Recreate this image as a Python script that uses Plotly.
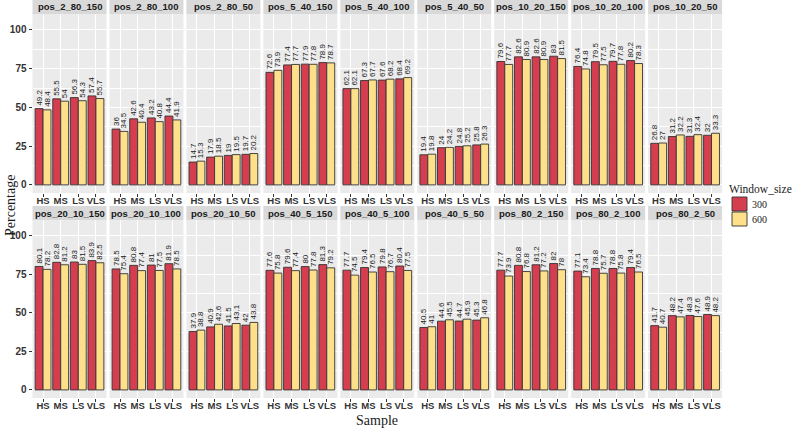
import plotly.graph_objects as go

samples = ["HS", "MS", "LS", "VLS"]
facets = ["pos_2_80_150", "pos_2_80_100", "pos_2_80_50",
          "pos_5_40_150", "pos_5_40_100", "pos_5_40_50",
          "pos_10_20_150", "pos_10_20_100", "pos_10_20_50",
          "pos_20_10_150", "pos_20_10_100", "pos_20_10_50",
          "pos_40_5_150", "pos_40_5_100", "pos_40_5_50",
          "pos_80_2_150", "pos_80_2_100", "pos_80_2_50"]
window_sizes = ["300", "600"]
values_300 = [
    [49.2, 55.5, 56.3, 57.4], [36, 42.6, 43.2, 44.4], [14.7, 17.9, 19, 19.7],
    [72.6, 77.4, 77.9, 78.9], [62.1, 67.3, 67.6, 68.4], [19.4, 24, 24.8, 25.8],
    [79.6, 82.6, 82.6, 83], [76.4, 79.5, 79.7, 80.2], [26.8, 31.2, 31.3, 32],
    [80.1, 82.8, 83, 83.9], [78.5, 80.8, 81, 81.9], [37.9, 40.9, 41.5, 42],
    [77.6, 79.6, 80, 81.3], [77.7, 79.4, 79.8, 80.4], [40.5, 44.6, 44.7, 45.3],
    [77.7, 80.8, 81.2, 82], [77.1, 78.8, 78.8, 79.4], [41.7, 48.2, 48.3, 48.9],
]
values_600 = [
    [48.4, 54, 54.3, 55.7], [34.5, 40.4, 40.8, 41.9], [15.3, 18.5, 19.5, 20.2],
    [73.9, 77.7, 77.8, 78.7], [62.1, 67.7, 68.2, 69.2], [19.8, 24.2, 25.2, 26.3],
    [77.7, 80.9, 80.9, 81.5], [74.8, 77.5, 77.8, 78.3], [27, 32.2, 32.4, 33.3],
    [78.2, 81.2, 81.5, 82.5], [75.4, 77.4, 77.5, 78.5], [38.8, 42.6, 43.1, 43.8],
    [75.8, 77.4, 77.8, 79.2], [74.5, 76.5, 76.7, 77.5], [41, 45.5, 45.9, 46.8],
    [73.9, 76.8, 77.2, 78], [73.4, 75.7, 75.8, 76.5], [40.7, 47.4, 47.6, 48.2],
]
y_ticks = [0, 25, 50, 75, 100]

colors = {"300": "#D53E4F", "600": "#FEE08B"}
W, H = 794, 428
SANS = "Liberation Sans, Arial, sans-serif"
SERIF = "Liberation Serif, Times New Roman, serif"

fig = go.Figure()
layout = {}
shapes = []
annotations = []

ncol = 9
x0_px, pitch_px, width_px = 32.5, 76.95, 74.0
rows_px = [(14, 193), (220, 398)]
strip_h = 14

def fmt(v):
    return ("%g" % v)

for i, name in enumerate(facets):
    r, c = divmod(i, ncol)
    k = i + 1
    xa = "x" if k == 1 else f"x{k}"
    ya = "y" if k == 1 else f"y{k}"
    left = x0_px + c * pitch_px
    right = left + width_px
    top, bot = rows_px[r]
    xd = [left / W, right / W]
    yd = [(H - bot) / H, (H - top) / H]
    for ws, vals in zip(window_sizes, [values_300[i], values_600[i]]):
        fig.add_trace(go.Bar(
            x=samples, y=vals, name=ws, legendgroup=ws, showlegend=False,
            xaxis=xa, yaxis=ya, offsetgroup=ws,
            marker=dict(color=colors[ws], line=dict(color="#333333", width=0.9)),
            text=[fmt(v) for v in vals], textposition="outside", textangle=-90,
            constraintext="none", cliponaxis=False,
            textfont=dict(family=SANS, size=8, color="#1a1a1a"),
            hoverinfo="x+y+name",
        ))
    layout["xaxis" if k == 1 else f"xaxis{k}"] = dict(
        domain=xd, anchor=ya, type="category", categoryorder="array",
        categoryarray=samples, range=[-0.6, 3.6], tickangle=0, automargin=False,
        showgrid=True, gridcolor="white", gridwidth=1.1,
        ticks="outside", ticklen=3, tickcolor="#333333", tickwidth=1,
        ticklabelstandoff=-4,
        showline=False, zeroline=False,
        tickfont=dict(family=SANS, size=9.5, color="#333333", weight="bold"),
    )
    layout["yaxis" if k == 1 else f"yaxis{k}"] = dict(
        domain=yd, anchor=xa, range=[-5.25, 110.25], automargin=False,
        tickvals=y_ticks, showticklabels=(c == 0),
        ticks="outside" if c == 0 else "", ticklen=3, tickcolor="#333333", tickwidth=1,
        showgrid=True, gridcolor="white", gridwidth=1.1, zeroline=False,
        minor=dict(dtick=12.5, tick0=0, showgrid=True, gridcolor="white", gridwidth=0.5, ticks=""),
        tickfont=dict(family=SANS, size=10, color="#333333", weight="bold"),
    )
    shapes.append(dict(type="rect", xref="paper", yref="paper",
                       x0=xd[0], x1=xd[1], y0=(H - top) / H, y1=(H - top + strip_h) / H,
                       fillcolor="#D9D9D9", line=dict(width=0), layer="below"))
    annotations.append(dict(text=name, xref="paper", yref="paper",
                            x=(xd[0] + xd[1]) / 2, y=(H - top + strip_h / 2) / H,
                            xanchor="center", yanchor="middle", showarrow=False,
                            font=dict(family=SANS, size=9.5, color="#1A1A1A", weight="bold")))

panels_left = x0_px / W
panels_right = (x0_px + 8 * pitch_px + width_px) / W
annotations.append(dict(text="Sample", xref="paper", yref="paper",
                        x=(panels_left + panels_right) / 2, y=(H - 420.5) / H,
                        xanchor="center", yanchor="middle", showarrow=False,
                        font=dict(family=SERIF, size=14, color="#1A1A1A")))
annotations.append(dict(text="Percentage", xref="paper", yref="paper",
                        x=10 / W, y=(H - 206) / H, textangle=-90,
                        xanchor="center", yanchor="middle", showarrow=False,
                        font=dict(family=SERIF, size=14, color="#1A1A1A")))

# legend (manual, ggplot-style)
annotations.append(dict(text="Window_size", xref="paper", yref="paper",
                        x=727 / W, y=(H - 189) / H, xanchor="left", yanchor="middle",
                        showarrow=False, font=dict(family=SERIF, size=11.5, color="#1A1A1A")))
for j, ws in enumerate(window_sizes):
    ytop = 197 + j * 15
    shapes.append(dict(type="rect", xref="paper", yref="paper",
                       x0=732 / W, x1=747 / W, y0=(H - ytop - 14) / H, y1=(H - ytop) / H,
                       fillcolor=colors[ws], line=dict(color="#333333", width=0.9)))
    annotations.append(dict(text=ws, xref="paper", yref="paper",
                            x=750 / W, y=(H - ytop - 7) / H, xanchor="left", yanchor="middle",
                            showarrow=False, font=dict(family=SERIF, size=10, color="#1A1A1A")))

fig.update_layout(
    width=W, height=H, margin=dict(l=0, r=0, t=0, b=0, autoexpand=False),
    barmode="group", bargap=0.1, bargroupgap=0,
    plot_bgcolor="#EBEBEB", paper_bgcolor="white",
    shapes=shapes, annotations=annotations, showlegend=False,
    **layout,
)

fig.write_html("out.html", config={"displayModeBar": False},
               post_script="document.body.style.margin='0';document.body.style.overflow='hidden';")
